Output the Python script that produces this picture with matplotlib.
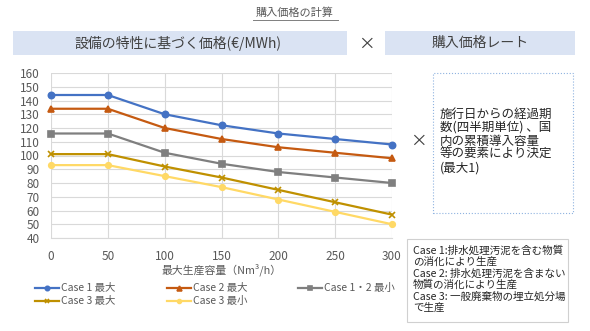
import matplotlib
matplotlib.use('Agg')
import matplotlib.pyplot as plt
from matplotlib.patches import Rectangle
from matplotlib.lines import Line2D

plt.rcParams['font.family'] = ['Noto Sans CJK JP', 'DejaVu Sans']

# data
capacity = [0, 50, 100, 150, 200, 250, 300]
case1_max = [144, 144, 130, 122, 116, 112, 108]
case2_max = [134, 134, 120, 112, 106, 102, 98]
case12_min = [116, 116, 102, 94, 88, 84, 80]
case3_max = [101, 101, 92, 84, 75, 66, 57]
case3_min = [93, 93, 85, 77, 68, 59, 50]
series_labels = ['Case 1 最大', 'Case 2 最大', 'Case 1・2 最小', 'Case 3 最大', 'Case 3 最小']
y_ticks = list(range(40, 161, 10))
rate_lines = ['施行日からの経過期', '数(四半期単位) 、国', '内の累積導入容量',
              '等の要素により決定', '(最大1)']
note_lines = ['Case 1:排水処理汚泥を含む物質', 'の消化により生産',
              'Case 2: 排水処理汚泥を含まない', '物質の消化により生産',
              'Case 3: 一般廃棄物の埋立処分場', 'で生産']

W, H = 590, 331
fig = plt.figure(figsize=(W / 100, H / 100), dpi=100)
fig.patch.set_facecolor('white')


def fx(px):
    return px / W


def fy(py):
    return 1 - py / H


text_col = '#404040'

# title
fig.text(fx(295), fy(13), '購入価格の計算', ha='center', va='center',
         fontsize=8, color='#595959')
fig.add_artist(Line2D([fx(253), fx(338)], [fy(20), fy(20)], color='#7f7f7f', lw=0.7))

# header boxes
fig.add_artist(Rectangle((fx(13), fy(55)), fx(347 - 13), 24 / H, facecolor='#dae3f3',
                         edgecolor='none', transform=fig.transFigure))
fig.text(fx(178), fy(43), '設備の特性に基づく価格(€/MWh)', ha='center', va='center',
         fontsize=10, color=text_col)
fig.text(fx(366), fy(44), '×', ha='center', va='center', fontsize=12, color=text_col)
fig.add_artist(Rectangle((fx(385), fy(55)), fx(575 - 385), 24 / H, facecolor='#dae3f3',
                         edgecolor='none', transform=fig.transFigure))
fig.text(fx(480), fy(43), '購入価格レート', ha='center', va='center',
         fontsize=10, color=text_col)

# chart
ax = fig.add_axes([fx(51), fy(238), fx(392 - 51), (238 - 73) / H])
styles = [
    (case1_max, '#4472c4', 'o', 4.5),
    (case2_max, '#c55a11', '^', 5),
    (case12_min, '#7f7f7f', 's', 4.5),
    (case3_max, '#bf9000', 'x', 5),
    (case3_min, '#ffd966', 'o', 4),
]
handles = []
for (vals, col, mk, ms), lab in zip(styles, series_labels):
    h, = ax.plot(capacity, vals, color=col, marker=mk, markersize=ms, lw=1.6,
                 markeredgewidth=1.2, label=lab, clip_on=False, zorder=3)
    handles.append(h)

ax.set_xlim(0, 300)
ax.set_ylim(40, 160)
ax.set_xticks(capacity)
ax.set_yticks(y_ticks)
ax.grid(True, color='#d9d9d9', lw=0.8)
ax.set_axisbelow(True)
for s in ['top', 'right', 'left']:
    ax.spines[s].set_visible(False)
ax.spines['bottom'].set_color('#d9d9d9')
ax.tick_params(length=0, labelsize=8.5, colors='#595959')
ax.tick_params(axis='x', pad=9)
ax.tick_params(axis='y', pad=8)
ax.set_xlabel('最大生産容量（Nm³/h）', fontsize=7.8, color='#595959', labelpad=0)

order = [0, 3, 1, 4, 2]
fig.legend([handles[i] for i in order], [series_labels[i] for i in order],
           loc='upper left', bbox_to_anchor=(fx(31), fy(279)), ncol=3, frameon=False,
           fontsize=7.5, labelcolor='#595959', handlelength=2.3, handletextpad=0.2,
           columnspacing=4.9, labelspacing=0.3, borderaxespad=0, markerscale=0.7)

# right side
fig.text(fx(418), fy(141), '×', ha='center', va='center', fontsize=12, color=text_col)
fig.add_artist(Rectangle((fx(433), fy(213)), fx(573 - 433), (213 - 73) / H,
                         facecolor='white', edgecolor='#8fb3e0', lw=0.8, ls=':',
                         transform=fig.transFigure))
for i, line in enumerate(rate_lines):
    fig.text(fx(440), fy(117.5 + i * 13.5), line, ha='left', va='baseline',
             fontsize=9, color='#262626')

fig.add_artist(Rectangle((fx(407), fy(322)), fx(568 - 407), (322 - 239) / H,
                         facecolor='white', edgecolor='#d0d0d0', lw=0.8,
                         transform=fig.transFigure))
for i, line in enumerate(note_lines):
    fig.text(fx(413), fy(253.5 + i * 11.5), line, ha='left', va='baseline',
             fontsize=7.6, color='#262626')

fig.savefig('out.png', dpi=100)
